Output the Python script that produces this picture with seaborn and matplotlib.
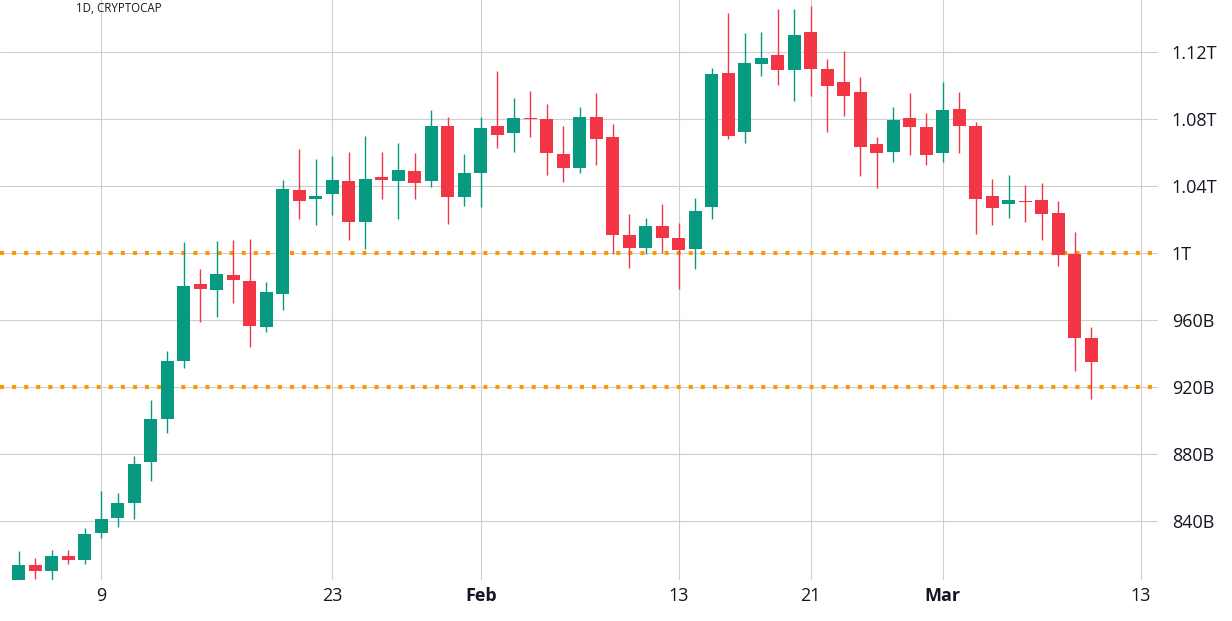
import matplotlib
matplotlib.use("Agg")
import matplotlib.pyplot as plt
import matplotlib.dates as mdates
import seaborn as sns
import pandas as pd

# daily candles, total crypto market cap (billions USD)
dates = pd.date_range("2023-01-04", "2023-03-10", freq="D")
opens = [800, 814, 810, 819, 817, 833, 842, 851, 875, 901, 935.5,
         981.5, 978, 987, 983.5, 956, 975.5, 1037.5, 1032, 1035, 1043, 1018.5,
         1045.5, 1043, 1049, 1043, 1076, 1033.5,
         1047.5, 1076, 1071.5, 1080.3, 1080, 1059, 1050.5, 1081, 1069.5, 1010.5,
         1003, 1016, 1009, 1002.5, 1027.5, 1107.5, 1072, 1113, 1118, 1109,
         1132, 1110, 1102, 1096, 1065, 1060, 1080.5, 1075,
         1059.5, 1086, 1076, 1034, 1029, 1031, 1031.5, 1024, 999.5, 949]
highs = [822, 818, 823, 822.5, 836, 858, 857, 879, 912, 941.5, 1006.5,
         990.5, 1007, 1008, 1008.5, 982.5, 1043.5, 1062, 1056, 1058, 1060, 1070,
         1060, 1065.5, 1059.5, 1085.5, 1081, 1059,
         1081, 1108.5, 1092.5, 1096.5, 1089, 1076, 1087, 1095.5, 1077, 1023.5,
         1021, 1029.5, 1018, 1033, 1110.5, 1143, 1131.5, 1132, 1145.5, 1145.5,
         1147.5, 1116, 1120.5, 1105, 1069.5, 1087, 1095.5, 1083.5,
         1102, 1096, 1078, 1044, 1046.5, 1040.5, 1042, 1031, 1012.5, 956]
lows = [797, 805.5, 805, 814.5, 814.5, 830, 836.5, 841.5, 864, 892.5, 931.5,
        959, 961.5, 970, 944, 953, 966, 1020.5, 1016.5, 1022.5, 1008, 1002.5,
        1032, 1020.5, 1032.5, 1039.5, 1017, 1028,
        1027.5, 1062.5, 1060, 1069.5, 1046.5, 1042.5, 1048, 1052.5, 999.5, 991,
        999.5, 1000, 978.5, 990.5, 1020, 1068, 1065.5, 1105.5, 1100, 1090.5,
        1093.5, 1072.5, 1081.5, 1046, 1039, 1054.5, 1058.5, 1052.5,
        1054.5, 1059.5, 1011.5, 1016.5, 1021, 1018.5, 1008, 992, 929.5, 913]
closes = [814, 810, 819, 817, 832, 841, 851, 874, 901, 935.5, 980,
          978.5, 987.5, 984, 956.5, 976.5, 1038, 1031, 1034, 1043.5, 1018.5, 1044,
          1043.5, 1049.5, 1042, 1076, 1033.5, 1048,
          1074.5, 1070.5, 1080.5, 1080, 1059.5, 1050.5, 1081, 1068, 1010.5, 1003,
          1016, 1009, 1001.5, 1025, 1107, 1070, 1113.5, 1116.5, 1109.5, 1130,
          1110, 1099.5, 1093.5, 1063.5, 1059.5, 1079.5, 1075, 1058.5,
          1085.5, 1075.5, 1032.5, 1027, 1031.5, 1030.7, 1023, 999, 949, 935]

levels = [1000, 920]
ytick_vals = [840, 880, 920, 960, 1000, 1040, 1080, 1120]
ytick_labels = ["840B", "880B", "920B", "960B", "1T", "1.04T", "1.08T", "1.12T"]
xtick_dates = ["2023-01-09", "2023-01-23", "2023-02-01", "2023-02-13",
               "2023-02-21", "2023-03-01", "2023-03-13"]
xtick_labels = ["9", "23", "Feb", "13", "21", "Mar", "13"]

UP = "#089981"
DOWN = "#F23645"

sns.set_theme(style="whitegrid")
plt.rcParams["font.family"] = ["Open Sans", "DejaVu Sans"]

df = pd.DataFrame({"date": dates, "open": opens, "high": highs,
                   "low": lows, "close": closes})
df["x"] = mdates.date2num(df["date"])
df["color"] = [UP if c >= o else DOWN for o, c in zip(df["open"], df["close"])]
df["bottom"] = df[["open", "close"]].min(axis=1)
df["height"] = (df["close"] - df["open"]).abs().clip(lower=0.6)

fig = plt.figure(figsize=(12.32, 6.21), dpi=100)
ax = fig.add_axes([0, 41 / 621, 1158 / 1232, 580 / 621])
ax.set_facecolor("white")

ax.vlines(df["x"], df["low"], df["high"], colors=df["color"], linewidth=1.0, zorder=3)
ax.bar(df["x"], df["height"], bottom=df["bottom"], width=0.79,
       color=df["color"], linewidth=0, zorder=4)

for lv in levels:
    ax.axhline(lv, color="#FF9800", linewidth=2.9, linestyle=(0, (1, 2)), zorder=2)

x0 = mdates.date2num(pd.Timestamp("2023-01-04"))
ax.set_xlim(x0 - 1.14, x0 + 69.04)
ax.set_ylim(804.8, 1151.0)

ax.set_xticks(mdates.date2num(pd.to_datetime(xtick_dates)))
ax.set_xticklabels(xtick_labels)
for lab in ax.get_xticklabels():
    if lab.get_text() in ("Feb", "Mar"):
        lab.set_fontweight("bold")
ax.set_yticks(ytick_vals)
ax.set_yticklabels(ytick_labels)
ax.yaxis.tick_right()

ax.tick_params(axis="both", length=0, labelsize=13, labelcolor="#131722")
ax.tick_params(axis="y", pad=10)
ax.tick_params(axis="x", pad=5)
for lab in ax.get_yticklabels():
    lab.set_horizontalalignment("left")

ax.grid(True, color="#cfcfcf", linewidth=0.8)
for s in ax.spines.values():
    s.set_visible(False)

fig.text(76 / 1232, 1 - 8 / 621, "1D, CRYPTOCAP", fontsize=8.3, color="#131722",
         ha="left", va="center")

fig.savefig("out.png", dpi=100, facecolor="white")
